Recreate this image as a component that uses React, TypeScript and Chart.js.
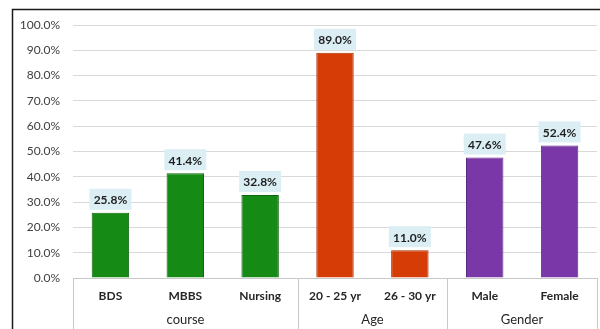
import React, { useEffect, useRef } from "react";
import { Chart, registerables } from "chart.js";

Chart.register(...registerables);

const categories = ["BDS", "MBBS", "Nursing", "20 - 25 yr", "26 - 30 yr", "Male", "Female"];
const values = [25.8, 41.4, 32.8, 89.0, 11.0, 47.6, 52.4];
const groupNames = ["course", "Age", "Gender"];
const groupSizes = [3, 2, 2];
const groupColors = ["#158a15", "#d63d06", "#7a37a8"];
const groupBorders = ["#0d660d", "#a82e04", "#5c2882"];
const yTicks = [0, 10, 20, 30, 40, 50, 60, 70, 80, 90, 100];

const FONT = "Lato, 'Open Sans', sans-serif";

function barColors(arr: string[]) {
  const out: string[] = [];
  groupSizes.forEach((n, g) => {
    for (let i = 0; i < n; i++) out.push(arr[g]);
  });
  return out;
}

const decorPlugin = {
  id: "decor",
  afterDatasetsDraw(chart: any) {
    const ctx = chart.ctx;
    const x = chart.scales.x;
    const area = chart.chartArea;
    const meta = chart.getDatasetMeta(0);
    ctx.save();
    // data labels
    ctx.font = `bold 12px ${FONT}`;
    ctx.textAlign = "center";
    ctx.textBaseline = "middle";
    meta.data.forEach((bar: any, i: number) => {
      const txt = values[i].toFixed(1) + "%";
      const w = 42;
      const h = 21;
      const bx = bar.x - w / 2;
      const by = bar.y - 3 - h;
      ctx.fillStyle = "#dbeef4";
      ctx.fillRect(bx, by, w, h);
      ctx.fillStyle = "#1f1f1f";
      ctx.fillText(txt, bar.x, by + h / 2 + 1);
    });
    // axis box
    const bottom = area.bottom;
    const H = chart.height;
    ctx.strokeStyle = "#c8c8c8";
    ctx.lineWidth = 1;
    ctx.beginPath();
    ctx.moveTo(area.left, bottom + 0.5);
    ctx.lineTo(area.right, bottom + 0.5);
    ctx.stroke();
    const bounds: number[] = [area.left];
    let idx = 0;
    groupSizes.forEach((n) => {
      idx += n;
      if (idx < categories.length) {
        bounds.push(Math.round((x.getPixelForValue(idx - 1) + x.getPixelForValue(idx)) / 2));
      }
    });
    bounds.push(area.right);
    bounds.forEach((bx) => {
      ctx.beginPath();
      ctx.moveTo(bx + 0.5, bottom);
      ctx.lineTo(bx + 0.5, H);
      ctx.stroke();
    });
    // category labels
    ctx.fillStyle = "#262626";
    ctx.font = `bold 12px ${FONT}`;
    categories.forEach((c, i) => {
      ctx.fillText(c, x.getPixelForValue(i), bottom + 18);
    });
    // group labels
    ctx.font = `13px ${FONT}`;
    groupNames.forEach((g, gi) => {
      ctx.fillText(g, (bounds[gi] + bounds[gi + 1]) / 2, bottom + 42);
    });
    // outer frame
    ctx.strokeStyle = "#1a1a1a";
    ctx.lineWidth = 1.5;
    ctx.beginPath();
    ctx.moveTo(12.5, H);
    ctx.lineTo(12.5, 9.5);
    ctx.lineTo(chart.width, 9.5);
    ctx.stroke();
    ctx.restore();
  },
};

export default function App() {
  const ref = useRef<HTMLCanvasElement | null>(null);
  useEffect(() => {
    if (!ref.current) return;
    const chart = new Chart(ref.current, {
      type: "bar",
      data: {
        labels: categories,
        datasets: [
          {
            data: values,
            backgroundColor: barColors(groupColors),
            borderColor: barColors(groupBorders),
            borderWidth: 1,
            barPercentage: 0.5,
            categoryPercentage: 1,
          },
        ],
      },
      options: {
        animation: false,
        responsive: false,
        maintainAspectRatio: false,
        layout: { padding: { left: 0, top: 25, right: 3, bottom: 51 } },
        plugins: { legend: { display: false }, tooltip: { enabled: false } },
        scales: {
          x: { display: false },
          y: {
            min: 0,
            max: 100,
            afterFit(scale: any) {
              scale.width = 73;
            },
            afterBuildTicks(scale: any) {
              scale.ticks = yTicks.map((v) => ({ value: v }));
            },
            border: { display: false },
            grid: { color: "#d9d9d9", drawTicks: false },
            ticks: {
              padding: 13,
              color: "#404040",
              font: { family: FONT, size: 12 },
              callback: (v: any) => Number(v).toFixed(1) + "%",
            },
          },
        },
      },
      plugins: [decorPlugin],
    });
    return () => chart.destroy();
  }, []);
  return (
    <div style={{ position: "fixed", left: 0, top: 0, width: 600, height: 329, background: "#fff" }}>
      <canvas ref={ref} width={600} height={329} style={{ width: 600, height: 329 }} />
    </div>
  );
}
